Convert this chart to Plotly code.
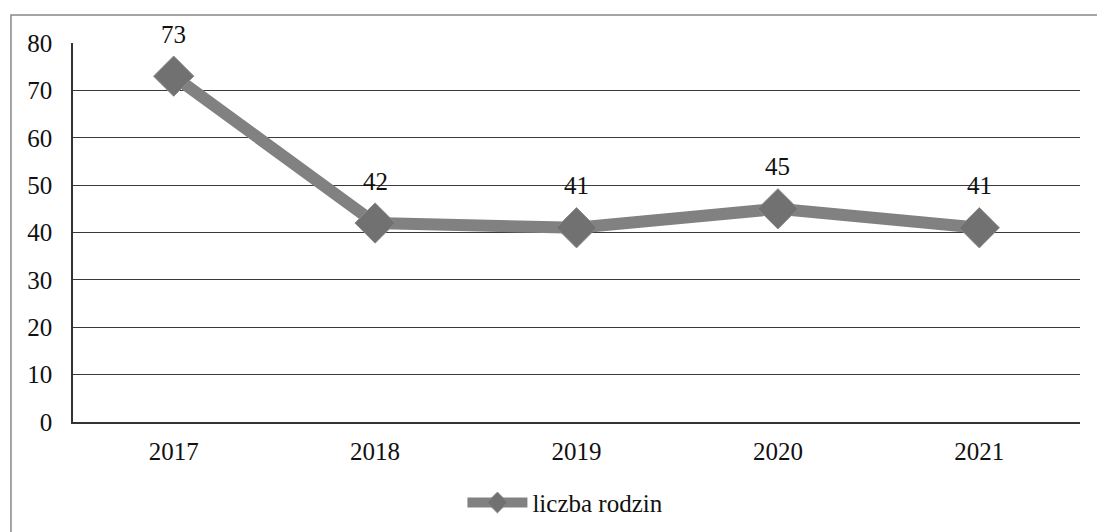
import plotly.graph_objects as go

years = ["2017", "2018", "2019", "2020", "2021"]
families = [73, 42, 41, 45, 41]
series_name = "liczba rodzin"
y_ticks = [0, 10, 20, 30, 40, 50, 60, 70, 80]

FONT = "Liberation Serif, Times New Roman, serif"

fig = go.Figure()
fig.add_trace(go.Scatter(
    x=years, y=families, mode="lines+markers", name=series_name,
    line=dict(color="#818181", width=12),
    marker=dict(symbol="diamond", size=31, color="#717171",
                line=dict(color="#8a8a8a", width=1)),
))

for i, yv in enumerate(families):
    fig.add_annotation(x=i, y=yv, text=str(yv), showarrow=False,
                       yshift=42, font=dict(family=FONT, size=25, color="#111"))

# outer frame (left and top edges visible; right edge off-canvas)
fig.add_shape(type="rect", xref="paper", yref="paper",
              x0=-0.0616, x1=1.06, y0=-0.35, y1=1.074,
              line=dict(color="#888", width=1.5), layer="below")

fig.update_layout(
    width=1097, height=532,
    margin=dict(l=73, r=17, t=43, b=110),
    paper_bgcolor="white", plot_bgcolor="white",
    font=dict(family=FONT, size=25, color="#111"),
    showlegend=True,
    legend=dict(orientation="h", x=0.489, xanchor="center",
                yref="container", y=0.055, yanchor="middle",
                font=dict(family=FONT, size=25, color="#111"),
                itemwidth=60),
    xaxis=dict(type="category", range=[-0.5, 4.5], showgrid=False,
               showline=True, linecolor="#333", linewidth=1.5,
               ticks="", ticklabelstandoff=6, zeroline=False, automargin=False),
    yaxis=dict(range=[0, 80], tickvals=y_ticks, showgrid=True,
               gridcolor="#3a3a3a", gridwidth=1.2, showline=True,
               linecolor="#333", linewidth=1.5, ticks="",
               ticklabelstandoff=14, zeroline=False, automargin=False),
)

fig.write_html("out.html", config={"displayModeBar": False},
               post_script="document.body.style.margin='0';")
